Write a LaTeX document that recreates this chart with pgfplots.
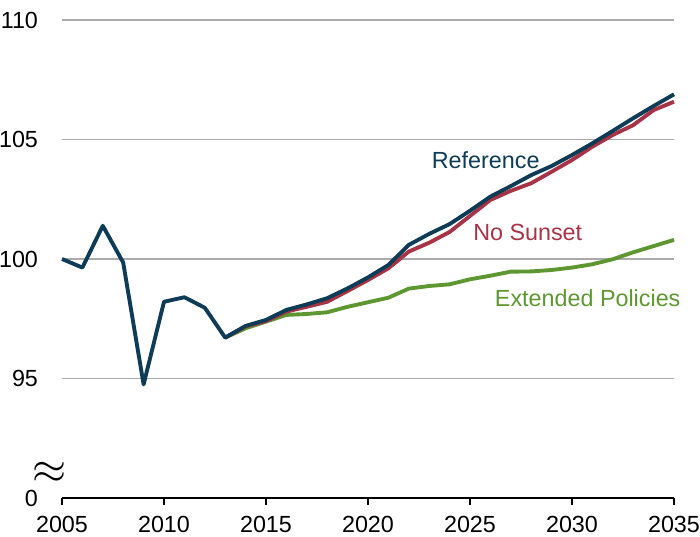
\documentclass[border=0pt]{standalone}
\usepackage{fontspec}
\setmainfont{Liberation Sans}
\usepackage{pgfplots}
\pgfplotsset{compat=1.18}
\definecolor{refblue}{RGB}{14,59,85}
\definecolor{nsred}{RGB}{166,52,70}
\definecolor{epgreen}{RGB}{94,151,50}
\definecolor{gridgray}{RGB}{170,170,170}
\begin{document}
\begin{tikzpicture}
\begin{axis}[
  scale only axis,
  width=459pt, height=358.5pt,
  xmin=2005, xmax=2035, ymin=90, ymax=110,
  axis x line*=bottom,
  axis y line*=left,
  y axis line style={draw=none},
  x axis line style={black, line width=1pt},
  xtick={2005,2010,...,2035},
  ytick={90,95,100,105,110},
  yticklabels={0,95,100,105,110},
  xticklabel style={/pgf/number format/1000 sep={}},
  /pgf/number format/assume math mode=true,
  tick label style={font=\fontsize{17.5}{21}\selectfont, text=black},
  ytick style={draw=none},
  xtick style={black, line width=1pt},
  major tick length=5pt,
  tick align=outside,
  yticklabel style={xshift=-9.5pt},
  xticklabel style={yshift=-5pt},
  ymajorgrids,
  grid style={gridgray, line width=0.8pt},
  clip=false,
]
\coordinate (sw) at (rel axis cs:0,0);
\coordinate (ne) at (rel axis cs:1,1);
\addplot[epgreen, line width=2.9pt, line join=round] coordinates {
(2013,96.71) (2014,97.1) (2015,97.38) (2016,97.66) (2017,97.7) (2018,97.77)
(2019,98.0) (2020,98.19) (2021,98.38) (2022,98.76) (2023,98.87) (2024,98.94)
(2025,99.15) (2026,99.3) (2027,99.47) (2028,99.48) (2029,99.54) (2030,99.64)
(2031,99.78) (2032,99.99) (2033,100.28) (2034,100.54) (2035,100.8)
};
\addplot[nsred, line width=2.9pt, line join=round] coordinates {
(2013,96.71) (2014,97.18) (2015,97.4) (2016,97.8) (2017,98.0) (2018,98.21)
(2019,98.66) (2020,99.12) (2021,99.61) (2022,100.31) (2023,100.68) (2024,101.13)
(2025,101.8) (2026,102.47) (2027,102.85) (2028,103.17) (2029,103.65) (2030,104.14)
(2031,104.7) (2032,105.19) (2033,105.6) (2034,106.23) (2035,106.58)
};
\addplot[refblue, line width=2.9pt, line join=round] coordinates {
(2005,100.0) (2006,99.64) (2007,101.39) (2008,99.85) (2009,94.75) (2010,98.21)
(2011,98.40) (2012,97.96) (2013,96.71) (2014,97.2) (2015,97.45) (2016,97.87)
(2017,98.1) (2018,98.36) (2019,98.77) (2020,99.23) (2021,99.75) (2022,100.59)
(2023,101.05) (2024,101.46) (2025,102.02) (2026,102.61) (2027,103.05) (2028,103.51)
(2029,103.89) (2030,104.35) (2031,104.84) (2032,105.36) (2033,105.89) (2034,106.4)
(2035,106.89)
};
\node[refblue, font=\fontsize{17.5}{21}\selectfont] at (axis cs:2025.77,104.14) {Reference};
\node[nsred, font=\fontsize{17.5}{21}\selectfont] at (axis cs:2027.83,101.13) {No Sunset};
\node[epgreen, font=\fontsize{17.5}{21}\selectfont] at (axis cs:2030.77,98.37) {Extended Policies};
\node[font=\fontsize{17.5}{21}\selectfont, scale=1.9] at ([xshift=-9pt]axis cs:2005,91.05) {$\approx$};
\end{axis}
\pgfresetboundingbox
\path ([shift={(-46.5pt,-29.25pt)}]sw) rectangle ([shift={(19.5pt,15pt)}]ne);
\end{tikzpicture}
\end{document}
